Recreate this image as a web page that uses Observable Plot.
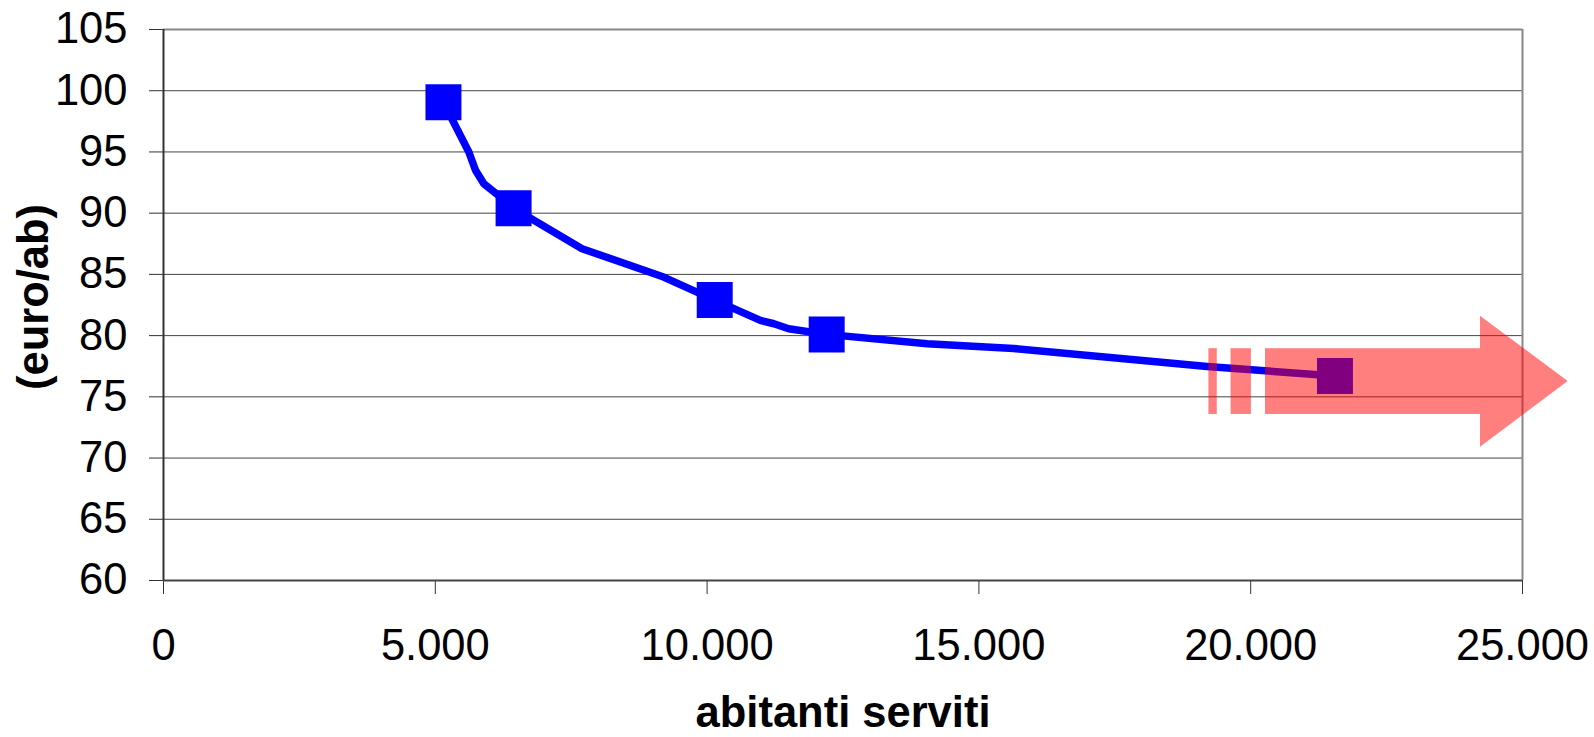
<!DOCTYPE html>
<html>
<head>
<meta charset="utf-8">
<script src="https://cdn.jsdelivr.net/npm/d3@7"></script>
<script src="https://cdn.jsdelivr.net/npm/@observablehq/plot@0.6"></script>
<style>
  html, body { margin: 0; padding: 0; background: #fff; }
  #chart svg { display: block; overflow: visible; }
</style>
</head>
<body>
<div id="chart"></div>
<script>
// ---- data ----
const xTicks = [0, 5000, 10000, 15000, 20000, 25000];
const yTicks = [60, 65, 70, 75, 80, 85, 90, 95, 100, 105];
const xLabel = "abitanti serviti";
const yLabel = "(euro/ab)";

// cost curve (abitanti serviti -> euro/ab)
const curveX = [5150, 5617, 5740, 5893, 6160, 6440, 7700, 9200, 10140, 10980, 11230, 11500, 12200, 14050, 15640, 19200, 21550];
const curveY = [99.05, 95.0, 93.5, 92.4, 91.45, 90.4, 87.1, 84.78, 82.9, 81.24, 80.97, 80.56, 80.1, 79.34, 78.95, 77.48, 76.7];

// square markers
const markerX = [5150, 6440, 10140, 12200, 21550];
const markerY = [99.05, 90.4, 82.9, 80.1, 76.7];

// arrow annotation (data units)
const arrowBarStart = [19231, 19639, 20272];
const arrowBarEnd   = [19385, 20013, 24227];
const arrowBodyLow = 73.56, arrowBodyHigh = 78.93;
const arrowHeadX   = [24227, 25840];
const arrowHeadLow  = [70.89, 76.26];
const arrowHeadHigh = [81.59, 76.26];

// ---- build ----
const curve = curveX.map((x, i) => ({x, y: curveY[i]}));
const markers = markerX.map((x, i) => ({x, y: markerY[i]}));
const bars = arrowBarStart.map((x1, i) => ({x1, x2: arrowBarEnd[i], y1: arrowBodyLow, y2: arrowBodyHigh}));
const head = arrowHeadX.map((x, i) => ({x, lo: arrowHeadLow[i], hi: arrowHeadHigh[i]}));

const itFmt = d3.formatLocale({decimal: ",", thousands: ".", grouping: [3], currency: ["€", ""]}).format(",d");

const font = "'Liberation Sans', Arial, sans-serif";

const chart = Plot.plot({
  width: 1594,
  height: 737,
  marginLeft: 163,
  marginRight: 72,
  marginTop: 29,
  marginBottom: 157,
  style: {fontFamily: font, fontSize: "43px", background: "#fff", overflow: "visible"},
  x: {domain: [0, 25000], label: null},
  y: {domain: [60, 105], label: null},
  marks: [
    Plot.gridY(yTicks, {stroke: "#444", strokeOpacity: 1, strokeWidth: 1}),
    Plot.ruleY([105], {stroke: "#888", strokeWidth: 2}),
    Plot.ruleX([25000], {stroke: "#888", strokeWidth: 2}),
    Plot.axisX({ticks: xTicks, tickFormat: itFmt, tickSize: 14, tickPadding: 35, stroke: "#333", fill: "#000", fontSize: 43.5, label: null}),
    Plot.axisY({ticks: yTicks, tickFormat: d3.format("d"), tickSize: 14, tickPadding: 22, stroke: "#333", fill: "#000", fontSize: 43.5, label: null}),
    Plot.ruleX([0], {stroke: "#333", strokeWidth: 2}),
    Plot.ruleY([60], {stroke: "#444", strokeWidth: 2}),
    Plot.line(curve, {x: "x", y: "y", stroke: "#0000ff", strokeWidth: 7.5, strokeLinejoin: "round", strokeLinecap: "butt"}),
    Plot.dot(markers, {x: "x", y: "y", symbol: "square", r: 20.3, fill: "#0000ff", stroke: "none"}),
    Plot.rect(bars, {x1: "x1", x2: "x2", y1: "y1", y2: "y2", fill: "#ff0000", fillOpacity: 0.5}),
    Plot.areaY(head, {x: "x", y1: "lo", y2: "hi", fill: "#ff0000", fillOpacity: 0.5}),
    Plot.text([yLabel], {text: d => d, frameAnchor: "left", textAnchor: "middle", dx: -129, dy: -8, rotate: -90, fontSize: 43.5, fontWeight: "bold", fill: "#000"}),
    Plot.text([xLabel], {text: d => d, frameAnchor: "bottom", textAnchor: "middle", dy: 146, fontSize: 43.5, fontWeight: "bold", fill: "#000"})
  ]
});
document.getElementById("chart").append(chart);
</script>
</body>
</html>
